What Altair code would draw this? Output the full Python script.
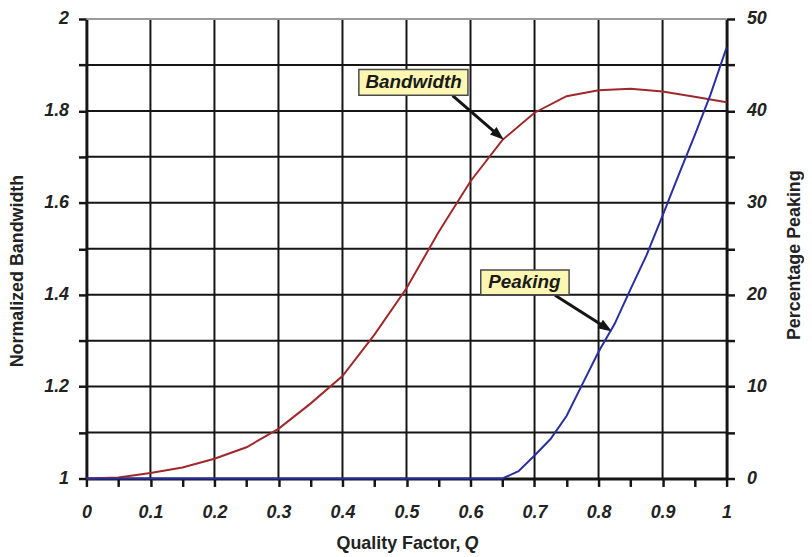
import math
import altair as alt
import pandas as pd

# ---------------- data ----------------
q_bandwidth = [0.0, 0.05, 0.1, 0.15, 0.2, 0.25, 0.3, 0.35, 0.4, 0.45, 0.5,
               0.55, 0.6, 0.65, 0.7, 0.75, 0.8, 0.85, 0.9, 0.95, 1.0]
bandwidth = [1.000, 1.002, 1.012, 1.024, 1.043, 1.068, 1.108, 1.163, 1.223, 1.313, 1.414,
             1.536, 1.647, 1.737, 1.796, 1.832, 1.845, 1.848, 1.842, 1.831, 1.819]

q_peaking = [0.0, 0.1, 0.2, 0.3, 0.4, 0.5, 0.6, 0.65, 0.675, 0.7, 0.725, 0.75,
             0.775, 0.8, 0.825, 0.85, 0.875, 0.9, 0.925, 0.95, 0.975, 1.0]
peaking = [0, 0, 0, 0, 0, 0, 0, 0, 0.8, 2.5, 4.3, 6.8,
           10.3, 13.8, 16.8, 20.6, 24.3, 28.6, 33.0, 37.3, 41.8, 46.9]

x_ticks = [0.0, 0.05, 0.1, 0.15, 0.2, 0.25, 0.3, 0.35, 0.4, 0.45, 0.5,
           0.55, 0.6, 0.65, 0.7, 0.75, 0.8, 0.85, 0.9, 0.95, 1.0]
x_grid = [0.1, 0.2, 0.3, 0.4, 0.5, 0.6, 0.7, 0.8, 0.9]
y_left_ticks = [1.0, 1.1, 1.2, 1.3, 1.4, 1.5, 1.6, 1.7, 1.8, 1.9, 2.0]
y_left_grid = [1.1, 1.2, 1.3, 1.4, 1.5, 1.6, 1.7, 1.8, 1.9]
y_top = [2.0]
y_right_ticks = [0, 5, 10, 15, 20, 25, 30, 35, 40, 45, 50]

# annotations (label, text centre, box extent, arrow start, arrow tip) in data units
ann_labels = ["Bandwidth", "Peaking"]
ann_tx = [0.511, 0.684]
ann_ty = [1.862, 1.427]
ann_bx1 = [0.4256, 0.616]
ann_bx2 = [0.596, 0.754]
ann_by1 = [1.834, 1.400]
ann_by2 = [1.890, 1.454]
arr_x1 = [0.572, 0.732]
arr_y1 = [1.833, 1.399]
arr_x2 = [0.652, 0.821]
arr_y2 = [1.737, 1.320]

# ---------------- layout / style ----------------
W, H = 645, 463
PAD = {"left": 79, "top": 9, "right": 78, "bottom": 77}
FONT = "Liberation Sans"
RED = "#A0282A"
BLUE = "#2A2EA3"
INK = "#151515"

X_SCALE = alt.Scale(domain=[0, 1], nice=False, zero=False)
YL_SCALE = alt.Scale(domain=[1, 2], nice=False, zero=False)
YR_SCALE = alt.Scale(domain=[0, 50], nice=False, zero=False)

axis_common = dict(
    labelFont=FONT, labelFontSize=18, labelFontStyle="italic", labelFontWeight="bold",
    labelColor="#222", domainColor=INK, domainWidth=3, tickColor=INK, tickWidth=2.5,
    tickSize=8, grid=False, title=None, labelFlush=False, labelOverlap=False,
)
x_axis = alt.Axis(
    values=x_ticks, orient="bottom", labelPadding=17,
    labelExpr="round(datum.value*20) % 2 == 0 ? format(datum.value, '.1~f') : ''",
    **axis_common,
)
yl_axis = alt.Axis(
    values=y_left_ticks, orient="left", labelPadding=10,
    labelExpr="round(datum.value*10) % 2 == 0 ? format(datum.value, '.1~f') : ''",
    **axis_common,
)
yr_axis = alt.Axis(
    values=y_right_ticks, orient="right", labelPadding=12,
    labelExpr="round(datum.value) % 10 == 0 ? format(datum.value, 'd') : ''",
    **axis_common,
)


def X(field):
    return alt.X(field, scale=X_SCALE, axis=x_axis)


def YL(field):
    return alt.Y(field, scale=YL_SCALE, axis=yl_axis)


# ---------------- tables ----------------
df_bw = pd.DataFrame({"q": q_bandwidth, "bw": bandwidth})
df_pk = pd.DataFrame({"q": q_peaking, "pk": peaking})

ann = pd.DataFrame({
    "label": ann_labels, "tx": ann_tx, "ty": ann_ty,
    "bx1": ann_bx1, "bx2": ann_bx2, "by1": ann_by1, "by2": ann_by2,
})

HEAD = 196  # symbol area
back = math.sqrt(HEAD) / 2
rows = []
for x1, y1, x2, y2 in zip(arr_x1, arr_y1, arr_x2, arr_y2):
    dx = (x2 - x1) * W
    dy = -(y2 - y1) * H
    L = math.hypot(dx, dy)
    ux, uy = dx / L, dy / L
    ang = math.degrees(math.atan2(dx, -dy)) % 360
    cx = x2 - ux * back / W
    cy = y2 + uy * back / H
    rows.append({"x1": x1, "y1": y1, "cx": cx, "cy": cy, "ang": ang})
arr = pd.DataFrame(rows)

# ---------------- left-scale layers ----------------
vgrid = alt.Chart(pd.DataFrame({"g": x_grid})).mark_rule(color=INK, strokeWidth=2).encode(
    x=X("g:Q"))
hgrid = alt.Chart(pd.DataFrame({"g": y_left_grid})).mark_rule(color=INK, strokeWidth=2).encode(
    y=YL("g:Q"))
top_border = alt.Chart(pd.DataFrame({"g": y_top})).mark_rule(color="#9a9a9a", strokeWidth=2).encode(
    y=YL("g:Q"))

bw_line = alt.Chart(df_bw).mark_line(color=RED, strokeWidth=2).encode(
    x=X("q:Q"), y=YL("bw:Q"))

arrow_shaft = alt.Chart(arr).mark_rule(color=INK, strokeWidth=3).encode(
    x=X("x1:Q"), x2="cx:Q", y=YL("y1:Q"), y2="cy:Q")
arrow_head = alt.Chart(arr).mark_point(
    shape="M0,-1L0.72,1L-0.72,1Z", filled=True, color=INK, opacity=1, size=HEAD,
).encode(x=X("cx:Q"), y=YL("cy:Q"), angle=alt.Angle("ang:Q", scale=None))

boxes = alt.Chart(ann).mark_rect(fill="#FBF7B2", stroke="#4a4a4a", strokeWidth=1.5).encode(
    x=X("bx1:Q"), x2="bx2:Q", y=YL("by1:Q"), y2="by2:Q")
box_text = alt.Chart(ann).mark_text(
    font=FONT, fontSize=19, fontStyle="italic", fontWeight="bold", color="#1a1a1a",
    align="center", baseline="middle",
).encode(x=X("tx:Q"), y=YL("ty:Q"), text="label:N")

# axis titles as text marks (pixel placement relative to plot area)
TFS = 18
xt_main = alt.Chart(pd.DataFrame({"t": ["Quality Factor,"]})).mark_text(
    font=FONT, fontSize=TFS, fontWeight="bold", color="#222", align="right", baseline="alphabetic",
).encode(x=alt.value(377), y=alt.value(534), text="t:N")
xt_q = alt.Chart(pd.DataFrame({"t": ["Q"]})).mark_text(
    font=FONT, fontSize=TFS, fontWeight="bold", fontStyle="italic", color="#222",
    align="left", baseline="alphabetic",
).encode(x=alt.value(381), y=alt.value(534), text="t:N")
yl_title = alt.Chart(pd.DataFrame({"t": ["Normalized Bandwidth"]})).mark_text(
    font=FONT, fontSize=TFS, fontWeight="bold", color="#222", align="center",
    baseline="middle", angle=270,
).encode(x=alt.value(-69), y=alt.value(254), text="t:N")
yr_title = alt.Chart(pd.DataFrame({"t": ["Percentage Peaking"]})).mark_text(
    font=FONT, fontSize=TFS, fontWeight="bold", color="#222", align="center",
    baseline="middle", angle=270,
).encode(x=alt.value(714), y=alt.value(238), text="t:N")

left = alt.layer(vgrid, hgrid, top_border, bw_line, arrow_shaft, arrow_head, boxes, box_text,
                 xt_main, xt_q, yl_title, yr_title)

# ---------------- right-scale layer ----------------
pk_line = alt.Chart(df_pk).mark_line(color=BLUE, strokeWidth=2).encode(
    x=X("q:Q"),
    y=alt.Y("pk:Q", scale=YR_SCALE, axis=yr_axis),
)

chart = alt.layer(left, pk_line).resolve_scale(y="independent").properties(
    width=W, height=H, padding=PAD, autosize=alt.AutoSizeParams(type="none"),
    background="white",
).configure_view(stroke=None)

chart.save("out.html", embed_options={"renderer": "svg", "actions": False})
